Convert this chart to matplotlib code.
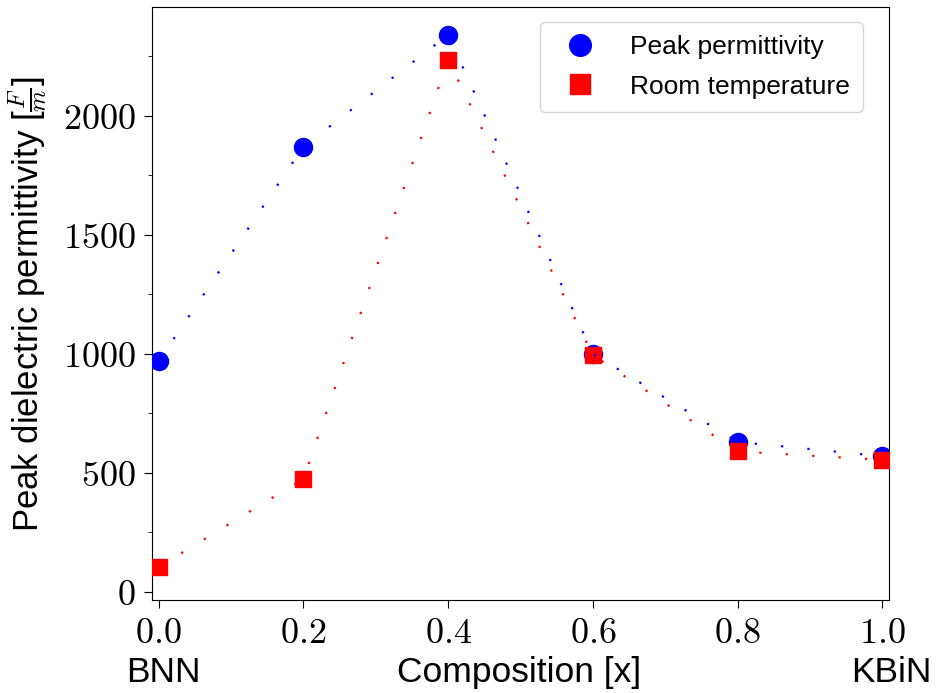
import matplotlib
matplotlib.use("Agg")
import matplotlib.pyplot as plt
from matplotlib.ticker import MultipleLocator

plt.rcParams["font.family"] = ["Liberation Sans", "DejaVu Sans"]
plt.rcParams["mathtext.fontset"] = "cm"

# Composition x of the solid solution (BNN at 0, KBiN at 1)
composition = [0.0, 0.2, 0.4, 0.6, 0.8, 1.0]
peak_permittivity = [970, 1870, 2340, 1000, 630, 570]
room_temperature = [105, 475, 2235, 995, 590, 555]

x_ticks = [0.0, 0.2, 0.4, 0.6, 0.8, 1.0]
x_tick_labels = ["$0.0$", "$0.2$", "$0.4$", "$0.6$", "$0.8$", "$1.0$"]
y_ticks = [0, 500, 1000, 1500, 2000]
y_tick_labels = ["$0$", "$500$", "$1000$", "$1500$", "$2000$"]

fig = plt.figure(figsize=(9.37, 6.93), dpi=100)
ax = fig.add_axes([0.1619, 0.1342, 0.7872, 0.855])

ax.plot(composition, peak_permittivity, linestyle="none", marker="o",
        markersize=13, color="blue", label="Peak permittivity", zorder=3)
ax.plot(composition, room_temperature, linestyle="none", marker="s",
        markersize=12, color="red", label="Room temperature", zorder=3)

dots = (0, (1, 10.9))
ax.plot(composition, peak_permittivity, linestyle=dots, linewidth=1.6,
        color="blue", zorder=4)
ax.plot(composition, room_temperature, linestyle=dots, linewidth=1.6,
        color="red", zorder=4)

ax.set_xlim(-0.0097, 1.0098)
ax.set_ylim(-34, 2455)

ax.set_xticks(x_ticks)
ax.set_xticklabels(x_tick_labels)
ax.set_yticks(y_ticks)
ax.set_yticklabels(y_tick_labels)
ax.yaxis.set_minor_locator(MultipleLocator(250))
ax.tick_params(axis="both", which="major", labelsize=26, length=5.5, pad=6)
ax.tick_params(axis="y", which="minor", length=3)

ax.set_ylabel(r"Peak dielectric permittivity [$\frac{F}{m}$]", fontsize=25,
              labelpad=9)

label_y = -0.138
ax.text(0.498, label_y, "Composition [x]", transform=ax.transAxes,
        ha="center", va="baseline", fontsize=25.5)
ax.text(0.007, label_y, "BNN", transform=ax.get_xaxis_transform(),
        ha="center", va="baseline", fontsize=25.5)
ax.text(1.0124, label_y, "KBiN", transform=ax.get_xaxis_transform(),
        ha="center", va="baseline", fontsize=25.5)

leg = ax.legend(loc="upper right", bbox_to_anchor=(0.964, 0.976),
                borderaxespad=0, fontsize=19, markerscale=1.2,
                handletextpad=0.9, labelspacing=0.6, borderpad=0.5)

fig.savefig("out.png", dpi=100)
